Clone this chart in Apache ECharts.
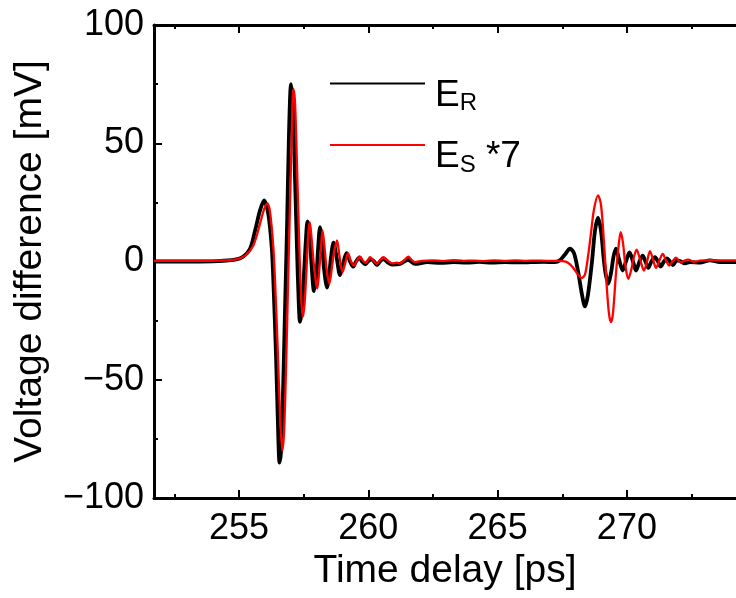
<!DOCTYPE html>
<html>
<head>
<meta charset="utf-8">
<script src="https://cdn.jsdelivr.net/npm/echarts@6/dist/echarts.min.js"></script>
<style>
html,body{margin:0;padding:0;background:#fff;}
#c{width:736px;height:598px;}
</style>
</head>
<body>
<div id="c"></div>
<script>
// ---- data (time in ps, voltage in mV) ----
const X_MIN = 251.71, X_MAX = 274.22;
const xMajorTicks = [255, 260, 265, 270];
const xMinorTicks = [252.5, 257.5, 262.5, 267.5, 272.5];
const seriesNames = ['E_R', 'E_S *7'];

const erData = [
[251.71,0.0],[253.19,0.0],[254.19,0.2],[254.845,0.8],[255.154,2],[255.425,5.4],[255.618,13],[255.811,21.6],[255.966,25.8],[256.132,20],[256.264,6],[256.326,-8],[256.430,-40],[256.507,-70],[256.565,-85],[256.624,-80],[256.701,-55],[256.778,-20],[256.856,15],[256.933,55],[257.010,75],[257.088,65],[257.165,35],[257.242,5],[257.300,-15],[257.358,-25.5],[257.436,-20],[257.513,-5],[257.590,10],[257.648,17],[257.726,12],[257.784,2],[257.900,-12.5],[257.996,-5],[258.054,5],[258.132,14.5],[258.209,8],[258.286,-3],[258.402,-11],[258.499,-4],[258.557,2],[258.654,8],[258.770,2],[258.905,-5.7],[259.021,-1],[259.156,3.5],[259.292,0],[259.408,-2.2],[259.524,0],[259.659,1.7],[259.756,0],[259.872,-1.2],[259.988,0],[260.104,0.9],[260.220,0],[260.336,-1.5],[260.452,0],[260.568,1.1],[260.761,-0.5],[260.916,-1.3],[261.225,-1.0],[261.535,0.7],[261.805,-1.0],[262.29,-0.3],[262.79,-0.6],[263.29,-0.3],[263.79,-0.5],[264.29,-0.2],[264.79,-0.5],[265.29,-0.3],[265.79,-0.4],[266.29,-0.3],[266.79,-0.2],[267.219,-0.3],[267.412,0.5],[267.606,3],[267.799,5.4],[267.954,3.5],[268.108,-4],[268.263,-14],[268.379,-19],[268.495,-14],[268.650,0],[268.766,13],[268.882,18.5],[268.998,13],[269.114,0],[269.191,-6],[269.280,-9.4],[269.384,-5],[269.481,2],[269.578,5.4],[269.694,1],[269.837,-3.8],[269.964,0],[270.100,3.8],[270.235,0],[270.351,-3.8],[270.486,0],[270.610,2.5],[270.718,0],[270.826,-2.7],[270.950,0],[271.085,1.8],[271.201,0],[271.305,-2.1],[271.433,0],[271.549,1.3],[271.665,0],[271.781,-1.5],[271.936,0.5],[272.052,0.2],[272.245,-0.8],[272.439,-0.3],[272.826,-0.5],[273.212,0.5],[273.599,-0.3],[274.22,-0.3]
];

const esData = [
[251.71,0.3],[253.19,0.3],[254.19,0.4],[254.845,0.8],[255.231,2.5],[255.552,6.8],[255.811,16],[255.966,22],[256.094,24.6],[256.198,21],[256.326,6],[256.391,-8],[256.488,-35],[256.585,-65],[256.674,-80],[256.740,-72],[256.817,-45],[256.894,-10],[256.972,25],[257.041,55],[257.099,73],[257.165,67],[257.242,40],[257.320,10],[257.389,-12],[257.463,-23.5],[257.532,-18],[257.610,-3],[257.679,12],[257.737,16.6],[257.803,10],[257.880,0],[257.977,-9],[258.027,-11.4],[258.112,-2],[258.170,6],[258.228,13.1],[258.306,6],[258.383,-3],[258.491,-9.4],[258.596,-2],[258.673,4],[258.789,8.9],[258.886,2],[259.002,-4.5],[259.098,-1],[259.214,3.5],[259.330,0],[259.446,-1.8],[259.562,0.5],[259.678,2.0],[259.794,0.3],[259.891,-0.6],[259.988,0.8],[260.065,1.8],[260.181,0.5],[260.324,-1.0],[260.452,0.6],[260.579,1.8],[260.761,0.3],[260.916,-0.8],[261.109,-0.5],[261.225,-0.9],[261.380,0.5],[261.546,2.0],[261.689,0.5],[261.805,-0.3],[262.076,0.3],[262.49,0.5],[262.89,0.2],[263.29,0.6],[263.69,0.3],[264.09,0.4],[264.49,0.2],[264.89,0.5],[265.29,0.3],[265.69,0.5],[266.09,0.3],[266.49,0.4],[266.89,0.3],[267.219,0.3],[267.528,0.2],[267.722,-0.5],[267.915,-2.5],[268.108,-5.5],[268.251,-7],[268.379,-5.5],[268.495,2],[268.611,12],[268.727,22],[268.882,28],[268.998,24],[269.114,8],[269.230,-12],[269.307,-22],[269.384,-25.6],[269.461,-22],[269.578,-5],[269.674,6],[269.759,12.4],[269.848,8],[269.945,-2],[270.053,-7.3],[270.158,-4],[270.274,2],[270.378,5],[270.506,1],[270.661,-3.8],[270.777,0],[270.893,4.4],[271.009,1],[271.125,-2.7],[271.260,0.5],[271.384,3.2],[271.512,0.5],[271.639,-1.7],[271.763,0],[271.899,1.6],[272.081,-0.5],[272.208,0.3],[272.374,0.8],[272.595,-0.2],[272.826,0.4],[273.212,0.6],[273.599,0.5],[274.22,0.5]
];

// ---- chart ----
const FONT = '"Liberation Sans", Arial, sans-serif';
const axisLineStyle = {color: '#000', width: 3};
const tickLineStyle = {color: '#000', width: 2};
const minusFmt = function (v) { return String(v).replace('-', '\u2212'); };

const chart = echarts.init(document.getElementById('c'), null, {renderer: 'canvas'});

function xAxisDef(position, ticks, len, showLine, showLabel, extra) {
  return Object.assign({
    type: 'value', position: position, min: X_MIN, max: X_MAX,
    axisLine: {show: showLine, onZero: false, lineStyle: axisLineStyle},
    axisTick: {show: true, inside: true, length: len, customValues: ticks, lineStyle: tickLineStyle},
    axisLabel: showLabel ? {show: true, customValues: ticks, fontSize: 36, color: '#000', fontFamily: FONT, margin: 13}
                         : {show: false},
    splitLine: {show: false}
  }, extra || {});
}

chart.setOption({
  animation: false,
  backgroundColor: '#fff',
  grid: {left: 154, right: 0, top: 25, bottom: 100, containLabel: false},
  legend: {
    orient: 'vertical', left: 329, top: 77, padding: 0,
    itemWidth: 95, itemHeight: 14, itemGap: 23,
    data: seriesNames,
    itemStyle: {opacity: 0, borderWidth: 0},
    formatter: function (name) {
      return name === 'E_R' ? '{m|E}{s|R}' : '{m|E}{s|S}{m| *7}';
    },
    textStyle: {
      color: '#000', fontFamily: FONT, fontSize: 37, padding: [24, 0, 0, 5],
      rich: {
        m: {fontSize: 37, lineHeight: 40, color: '#000', fontFamily: FONT},
        s: {fontSize: 24, lineHeight: 24, verticalAlign: 'bottom', color: '#000', fontFamily: FONT}
      }
    }
  },
  xAxis: [
    xAxisDef('bottom', xMajorTicks, 8, true, true, {
      name: 'Time delay [ps]', nameLocation: 'middle', nameGap: 50,
      nameTextStyle: {fontSize: 39, color: '#000', fontFamily: FONT}
    }),
    xAxisDef('bottom', xMinorTicks, 4, false, false),
    xAxisDef('top', xMajorTicks, 8, true, false),
    xAxisDef('top', xMinorTicks, 4, false, false)
  ],
  yAxis: {
    type: 'value', min: -100, max: 100, interval: 50,
    axisLine: {show: true, onZero: false, lineStyle: axisLineStyle},
    axisTick: {show: true, inside: true, length: 8, lineStyle: tickLineStyle},
    minorTick: {show: true, splitNumber: 2, length: 4, lineStyle: tickLineStyle},
    axisLabel: {fontSize: 36, color: '#000', fontFamily: FONT, margin: 10, formatter: minusFmt},
    splitLine: {show: false},
    name: 'Voltage difference [mV]', nameLocation: 'middle', nameGap: 104,
    nameTextStyle: {fontSize: 39, color: '#000', fontFamily: FONT}
  },
  series: [
    {
      name: 'E_R', type: 'line', xAxisIndex: 0, yAxisIndex: 0,
      data: erData, symbol: 'none', showSymbol: false, smooth: 0.3,
      lineStyle: {color: '#000', width: 3.8}, itemStyle: {color: '#000'}, z: 2
    },
    {
      name: 'E_S *7', type: 'line', xAxisIndex: 0, yAxisIndex: 0,
      data: esData, symbol: 'none', showSymbol: false, smooth: 0.3,
      lineStyle: {color: '#ff0000', width: 2.3}, itemStyle: {color: '#ff0000'}, z: 3
    }
  ]
});
</script>
</body>
</html>
